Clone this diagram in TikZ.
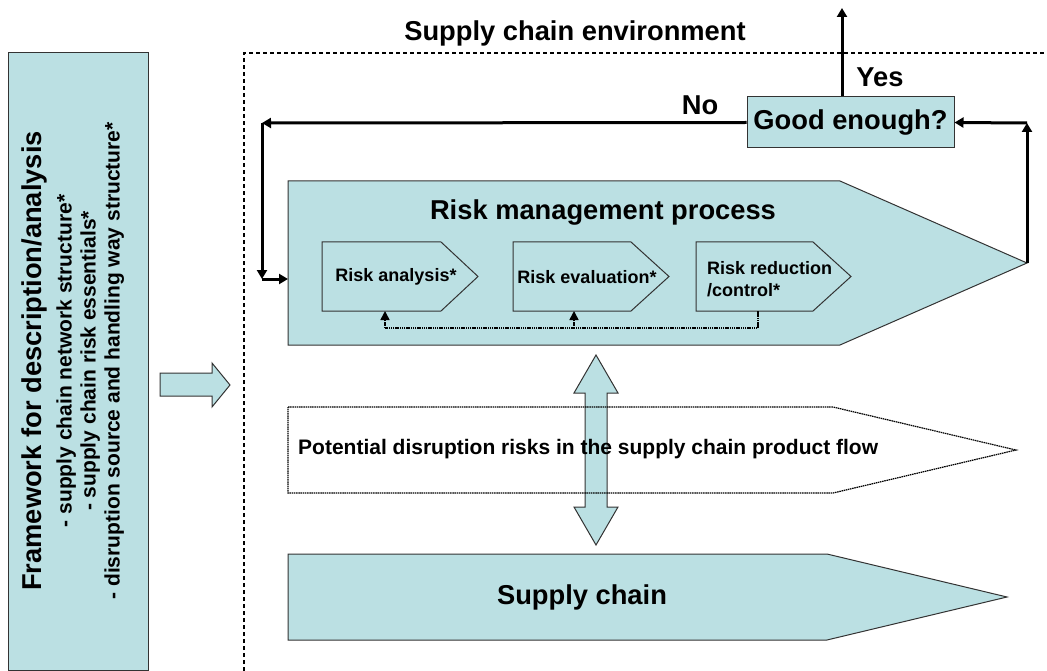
\documentclass[tikz,border=0pt]{standalone}
\usepackage{fontspec}
\setmainfont{Liberation Sans}
\usetikzlibrary{positioning,arrows.meta}
\definecolor{paleteal}{RGB}{187,224,227}

\begin{document}
\begin{tikzpicture}[x=1pt,y=-1pt,
      blockfill/.style={draw=black!80,fill=paleteal,line width=1pt},
      bigtext/.style={font=\bfseries\fontsize{27.3}{30}\selectfont},
      midtext/.style={font=\bfseries\fontsize{21}{24}\selectfont},
      smalltext/.style={font=\bfseries\fontsize{18}{22}\selectfont},
      flowline/.style={line width=3pt,-{Triangle[length=9pt,width=10pt]}},
      dotline/.style={line width=1.5pt,dash pattern=on 1.5pt off 0.7pt},
      backline/.style={dotline,-{Triangle[length=9pt,width=9pt]}},
      inner sep=0pt]
      \useasboundingbox (0,0) rectangle (1047,671);
      % environment frame
      \draw[line width=1.3pt,dash pattern=on 4pt off 3pt] (244,671) -- (244,53) -- (1047,53);
      \node (env) [bigtext] at (575,33) {Supply chain environment};
      % framework box
      \draw[blockfill] (8,53) rectangle (148,670);
      \node (frame) [midtext,rotate=90,align=center] at (73,361)
        {{\fontsize{27.3}{30}\selectfont Framework for description/analysis}\\[6pt]
         - supply chain network structure*\\
         - supply chain risk essentials*\\
         - disruption source and handling way structure*};
      \draw[blockfill] (160,373) -- (212,373) -- (212,363) -- (230,385) -- (212,407)
        -- (212,396) -- (160,396) -- cycle;
      % risk management process
      \draw[blockfill] (288,181) -- (840,181) -- (1027,263) -- (840,345) -- (288,345) -- cycle;
      \coordinate (rmtip) at (1027,263);
      \coordinate (rmin) at (288,279);
      \node (rmp) [bigtext] at (603,213) {Risk management process};
      \draw[blockfill] (322,242) -- (441,242) -- (478,276.5) -- (441,311) -- (322,311) -- cycle;
      \draw[blockfill] (513,242) -- (631,242) -- (669,276.5) -- (631,311) -- (513,311) -- cycle;
      \draw[blockfill] (696,242) -- (813,242) -- (851,276.5) -- (813,311) -- (696,311) -- cycle;
      \node (analysis) [smalltext] at (396,277) {Risk analysis*};
      \node (evaluation) [smalltext] at (587,277) {Risk evaluation*};
      \node (reduction) [smalltext,align=left,anchor=west] at (707,279) {Risk reduction\\/control*};
      \coordinate (redout) at (758,311);
      \coordinate (loopr) at (758,328);
      \coordinate (loopl) at (385,328);
      \coordinate (loopm) at (574,328);
      \draw[dotline] (redout) -- (loopr) -- (loopl);
      \draw[backline] (loopl) -- (385,311);
      \draw[backline] (loopm) -- (574,311);
      % decision
      \node (good) [blockfill,bigtext,minimum width=207pt,minimum height=51pt] at (850.5,122.5) {Good enough?};
      \coordinate (upcorner) at (1027,123);
      \draw[flowline] (rmtip) -- (upcorner);
      \draw[flowline] (upcorner) -- (good.east);
      \coordinate (exit) at (842,8);
      \draw[flowline] (good.north -| exit) -- (exit);
      \node (yes) [bigtext] at (880,77) {Yes};
      \coordinate (nocorner) at (262,123);
      \coordinate (downcorner) at (262,279);
      \draw[flowline] (good.west) -- (nocorner);
      \draw[flowline] (nocorner) -- (downcorner);
      \draw[flowline] (downcorner) -- (rmin);
      \node (no) [bigtext] at (700,105) {No};
      % link between process and supply chain
      \draw[blockfill] (596,355) -- (618,393) -- (607,393) -- (607,507) -- (618,507) -- (596,545)
        -- (574,507) -- (585,507) -- (585,393) -- (574,393) -- cycle;
      \draw[dotline,line width=1.2pt] (288,407) -- (833,407) -- (1016,450) -- (833,493) -- (288,493) -- cycle;
      \node (risks) [midtext,anchor=west] at (298,449) {Potential disruption risks in the supply chain product flow};
      % supply chain
      \draw[blockfill] (288,554) -- (827,554) -- (1007,597) -- (827,640) -- (288,640) -- cycle;
      \node (chain) [bigtext] at (582,597) {Supply chain};
    \end{tikzpicture}
\end{document}
